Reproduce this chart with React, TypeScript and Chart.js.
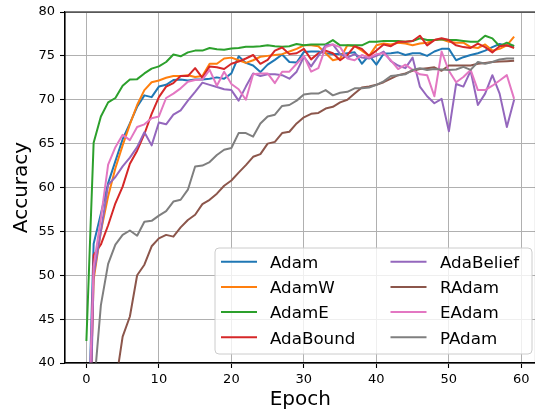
import React, { useEffect, useRef } from 'react';
import { Chart, registerables } from 'chart.js';

Chart.register(...registerables);

const EPOCHS = Array.from({ length: 60 }, (_, i) => i);
const X_TICKS = [0, 10, 20, 30, 40, 50, 60];
const Y_TICKS = [40, 45, 50, 55, 60, 65, 70, 75, 80];

const SERIES_NAMES = ['Adam', 'AdamW', 'AdamE', 'AdaBound', 'AdaBelief', 'RAdam', 'EAdam', 'PAdam'];
const SERIES_COLORS = ['#1f77b4', '#ff7f0e', '#2ca02c', '#d62728', '#9467bd', '#8c564b', '#e377c2', '#7f7f7f'];

const ADAM = [25, 53.6, 57.0, 60.5, 63.0, 65.5, 67.3, 69.2, 70.5, 70.3,
  71.5, 71.7, 72.25, 72.3, 72.2, 72.3, 72.3, 72.4, 72.55, 72.4,
  73.0, 74.95, 74.2, 73.9, 73.15, 74.0, 74.55, 75.15, 74.3, 74.25,
  75.45, 75.5, 75.5, 75.3, 75.2, 75.2, 75.3, 75.4, 74.1, 75.05,
  74.0, 75.25, 75.3, 75.4, 75.1, 75.3, 75.3, 75.0, 75.5, 75.8,
  75.8, 74.5, 74.85, 75.1, 75.3, 75.6, 76.0, 76.35, 76.15, 76.15];

const ADAMW = [20, 49.5, 55.0, 59.0, 62.2, 64.8, 67.2, 69.4, 71.1, 72.0,
  72.2, 72.5, 72.7, 72.7, 72.8, 72.6, 72.7, 74.1, 74.1, 74.7,
  74.8, 74.5, 74.2, 74.5, 74.9, 75.0, 75.1, 75.2, 75.5, 75.8,
  76.2, 76.2, 76.1, 75.3, 74.5, 74.7, 76.2, 76.1, 75.6, 75.0,
  76.2, 76.4, 76.3, 76.5, 76.4, 76.2, 76.4, 76.5, 76.8, 76.9,
  76.6, 76.5, 76.5, 76.0, 75.9, 76.3, 75.6, 75.8, 76.2, 77.2];

const ADAME = [42.5, 65.1, 68.1, 69.7, 70.2, 71.6, 72.3, 72.35, 73.0, 73.55,
  73.8, 74.3, 75.15, 74.95, 75.4, 75.6, 75.6, 75.9, 75.75, 75.7,
  75.85, 75.9, 76.05, 76.05, 76.1, 76.2, 76.1, 76.05, 76.1, 76.35,
  76.2, 76.3, 76.3, 76.3, 76.8, 76.2, 76.2, 76.2, 76.2, 76.6,
  76.6, 76.7, 76.7, 76.7, 76.6, 76.7, 77.0, 76.8, 76.8, 76.9,
  76.8, 76.8, 76.7, 76.6, 76.6, 77.3, 77.0, 76.1, 76.5, 76.1];

const ADABOUND = [10, 52.3, 53.5, 55.7, 58.2, 60.1, 62.7, 64.2, 66.1, 68.4,
  70.3, 71.5, 71.9, 72.7, 72.7, 73.6, 72.5, 73.8, 73.7, 73.5,
  74.1, 74.35, 74.7, 75.1, 74.1, 74.55, 75.6, 75.95, 75.2, 75.3,
  75.8, 74.6, 75.3, 75.6, 75.3, 74.5, 75.1, 76.1, 75.8, 75.0,
  75.6, 76.3, 76.1, 76.6, 76.6, 76.7, 77.3, 76.2, 76.8, 77.0,
  76.8, 76.2, 76.0, 75.9, 76.4, 76.0, 75.4, 76.1, 76.2, 75.9];

const ADABELIEF = [13, 50, 55, 60.3, 61.2, 62.4, 63.4, 64.6, 66.3, 64.8,
  67.4, 67.2, 68.3, 68.8, 69.9, 70.9, 71.95, 71.7, 71.45, 71.2,
  71.1, 69.9, 71.5, 73.0, 72.7, 72.9, 72.9, 72.8, 72.4, 73.2,
  74.9, 73.8, 75.0, 76.2, 76.3, 75.2, 74.8, 75.2, 74.8, 74.7,
  75.0, 75.5, 74.4, 73.9, 73.6, 74.8, 71.5, 70.4, 69.6, 70.1,
  66.4, 71.8, 71.5, 73.3, 69.4, 70.7, 72.8, 70.7, 66.9, 70.0];

const RADAM = [12, 18, 24, 30, 37.5, 43.0, 45.3, 50.0, 51.2, 53.3,
  54.2, 54.6, 54.4, 55.45, 56.3, 56.9, 58.1, 58.6, 59.3, 60.2,
  60.8, 61.7, 62.55, 63.5, 63.8, 65.0, 65.2, 66.2, 66.35, 67.3,
  68.0, 68.4, 68.5, 69.0, 69.2, 69.7, 70.0, 70.7, 71.4, 71.5,
  71.7, 72.0, 72.4, 72.8, 73.0, 73.3, 73.5, 73.6, 73.7, 73.3,
  73.9, 73.9, 73.9, 73.9, 74.1, 74.2, 74.3, 74.35, 74.4, 74.45];

const EADAM = [26, 51, 56.5, 62.6, 64.6, 66.0, 65.4, 66.9, 67.2, 67.9,
  68.1, 70.2, 70.7, 71.3, 72.05, 72.25, 72.3, 73.4, 71.6, 73.2,
  71.8, 71.2, 70.0, 72.9, 73.0, 73.0, 71.9, 73.2, 73.2, 74.1,
  75.0, 73.2, 73.6, 76.0, 76.3, 76.0, 74.7, 74.5, 75.1, 74.8,
  75.2, 75.3, 74.5, 73.5, 74.0, 73.4, 72.9, 72.8, 70.4, 75.5,
  73.3, 72.0, 72.6, 73.4, 71.1, 71.1, 71.6, 72.2, 72.8, 70.1];

const PADAM = [20, 36.8, 46.6, 51.3, 53.5, 54.6, 55.1, 54.5, 56.1, 56.2,
  56.8, 57.3, 58.4, 58.6, 59.75, 62.4, 62.5, 62.9, 63.7, 64.3,
  64.5, 66.2, 66.2, 65.8, 67.3, 68.1, 68.3, 69.3, 69.4, 69.9,
  70.6, 70.7, 70.7, 71.1, 70.5, 70.8, 70.9, 71.3, 71.3, 71.4,
  71.7, 72.1, 72.7, 72.8, 72.9, 73.4, 73.6, 73.4, 73.5, 73.45,
  73.4, 73.45, 73.75, 73.4, 74.3, 74.1, 74.3, 74.6, 74.7, 74.7];

const SERIES_VALUES = [ADAM, ADAMW, ADAME, ADABOUND, ADABELIEF, RADAM, EADAM, PADAM];

const FONT = "'DejaVu Sans', sans-serif";

const frameAndLegend = {
  id: 'frameAndLegend',
  afterDatasetsDraw(chart: any) {
    const { ctx, chartArea } = chart;
    ctx.save();
    ctx.strokeStyle = '#000';
    ctx.lineWidth = 1.1;
    ctx.beginPath();
    ctx.moveTo(chartArea.left, chartArea.bottom);
    ctx.lineTo(chartArea.left, chartArea.top);
    ctx.lineTo(chartArea.right, chartArea.top);
    ctx.lineTo(chartArea.right, chartArea.bottom);
    ctx.closePath();
    ctx.stroke();
    ctx.restore();
  },
  afterDraw(chart: any) {
    const { ctx } = chart;
    const bx = 215, by = 248, bw = 317, bh = 106, r = 4;
    ctx.save();
    ctx.beginPath();
    ctx.moveTo(bx + r, by);
    ctx.lineTo(bx + bw - r, by);
    ctx.quadraticCurveTo(bx + bw, by, bx + bw, by + r);
    ctx.lineTo(bx + bw, by + bh - r);
    ctx.quadraticCurveTo(bx + bw, by + bh, bx + bw - r, by + bh);
    ctx.lineTo(bx + r, by + bh);
    ctx.quadraticCurveTo(bx, by + bh, bx, by + bh - r);
    ctx.lineTo(bx, by + r);
    ctx.quadraticCurveTo(bx, by, bx + r, by);
    ctx.closePath();
    ctx.fillStyle = 'rgba(255,255,255,0.8)';
    ctx.fill();
    ctx.strokeStyle = '#cccccc';
    ctx.lineWidth = 1;
    ctx.stroke();

    ctx.font = `16.7px ${FONT}`;
    ctx.textBaseline = 'alphabetic';
    ctx.textAlign = 'left';
    chart.data.datasets.forEach((ds: any, i: number) => {
      const col = i < 4 ? 0 : 1;
      const row = i % 4;
      const y = 261.7 + row * 25.2;
      const hx = col === 0 ? 221 : 390.5;
      ctx.strokeStyle = ds.borderColor;
      ctx.lineWidth = 2;
      ctx.lineCap = 'square';
      ctx.beginPath();
      ctx.moveTo(hx + 1, y);
      ctx.lineTo(hx + 35, y);
      ctx.stroke();
      ctx.fillStyle = '#000';
      ctx.fillText(ds.label, col === 0 ? 270 : 440, y + 6.2);
    });
    ctx.restore();
  },
};

export default function App() {
  const canvasRef = useRef<HTMLCanvasElement | null>(null);

  useEffect(() => {
    const canvas = canvasRef.current;
    if (!canvas) return;
    const datasets = SERIES_NAMES.map((name, i) => ({
      label: name,
      data: EPOCHS.map((e, j) => ({ x: e, y: SERIES_VALUES[i][j] })),
      borderColor: SERIES_COLORS[i],
      backgroundColor: SERIES_COLORS[i],
      borderWidth: 2,
      pointRadius: 0,
      pointHoverRadius: 0,
      tension: 0,
      fill: false,
      borderJoinStyle: 'round' as const,
      clip: 0,
      order: SERIES_NAMES.length - i,
    }));

    const tickFont = { family: FONT, size: 13 };
    const titleFont = { family: FONT, size: 20, lineHeight: 1.2 };

    const chart = new Chart(canvas, {
      type: 'line',
      data: { datasets },
      options: {
        animation: false,
        responsive: false,
        maintainAspectRatio: false,
        devicePixelRatio: 1,
        layout: { padding: { left: 0, top: 12, right: 4.5, bottom: 0 }, autoPadding: false },
        plugins: { legend: { display: false }, tooltip: { enabled: false } },
        events: [],
        scales: {
          x: {
            type: 'linear',
            min: -2.95,
            max: 61.95,
            afterBuildTicks: (scale: any) => {
              scale.ticks = X_TICKS.map((v) => ({ value: v }));
            },
            afterFit: (scale: any) => {
              scale.height = 49;
              scale.paddingLeft = 0;
              scale.paddingRight = 0;
            },
            ticks: {
              autoSkip: false,
              maxRotation: 0,
              minRotation: 0,
              padding: 4,
              color: '#000',
              font: tickFont,
            },
            grid: {
              color: '#b0b0b0',
              lineWidth: 1,
              borderDash: [4.5, 2],
              drawTicks: true,
              tickLength: 5,
              tickColor: '#000',
              tickWidth: 1.1,
              tickBorderDash: [],
            },
            border: { display: true, color: '#000', width: 1.1 },
            title: {
              display: true,
              text: 'Epoch',
              color: '#000',
              font: titleFont,
              padding: { top: 0, bottom: 0 },
            },
          },
          y: {
            type: 'linear',
            min: 40,
            max: 80,
            afterBuildTicks: (scale: any) => {
              scale.ticks = Y_TICKS.map((v) => ({ value: v }));
            },
            afterFit: (scale: any) => {
              scale.width = 65;
              scale.paddingTop = 0;
              scale.paddingBottom = 0;
            },
            ticks: {
              padding: 5,
              color: '#000',
              font: tickFont,
            },
            grid: {
              color: '#b0b0b0',
              lineWidth: 1,
              borderDash: [4.5, 2],
              drawTicks: true,
              tickLength: 5,
              tickColor: '#000',
              tickWidth: 1.1,
              tickBorderDash: [],
            },
            border: { display: true, color: '#000', width: 1.1 },
            title: {
              display: true,
              text: 'Accuracy',
              color: '#000',
              font: titleFont,
              padding: { top: 10, bottom: 0 },
            },
          },
        },
      },
      plugins: [frameAndLegend],
    } as any);

    return () => chart.destroy();
  }, []);

  return (
    <div
      style={{
        position: 'fixed',
        left: 0,
        top: 0,
        width: 535,
        height: 412,
        overflow: 'hidden',
        background: '#fff',
      }}
    >
      <canvas
        ref={canvasRef}
        width={540}
        height={412}
        style={{ display: 'block', width: 540, height: 412 }}
      />
    </div>
  );
}
